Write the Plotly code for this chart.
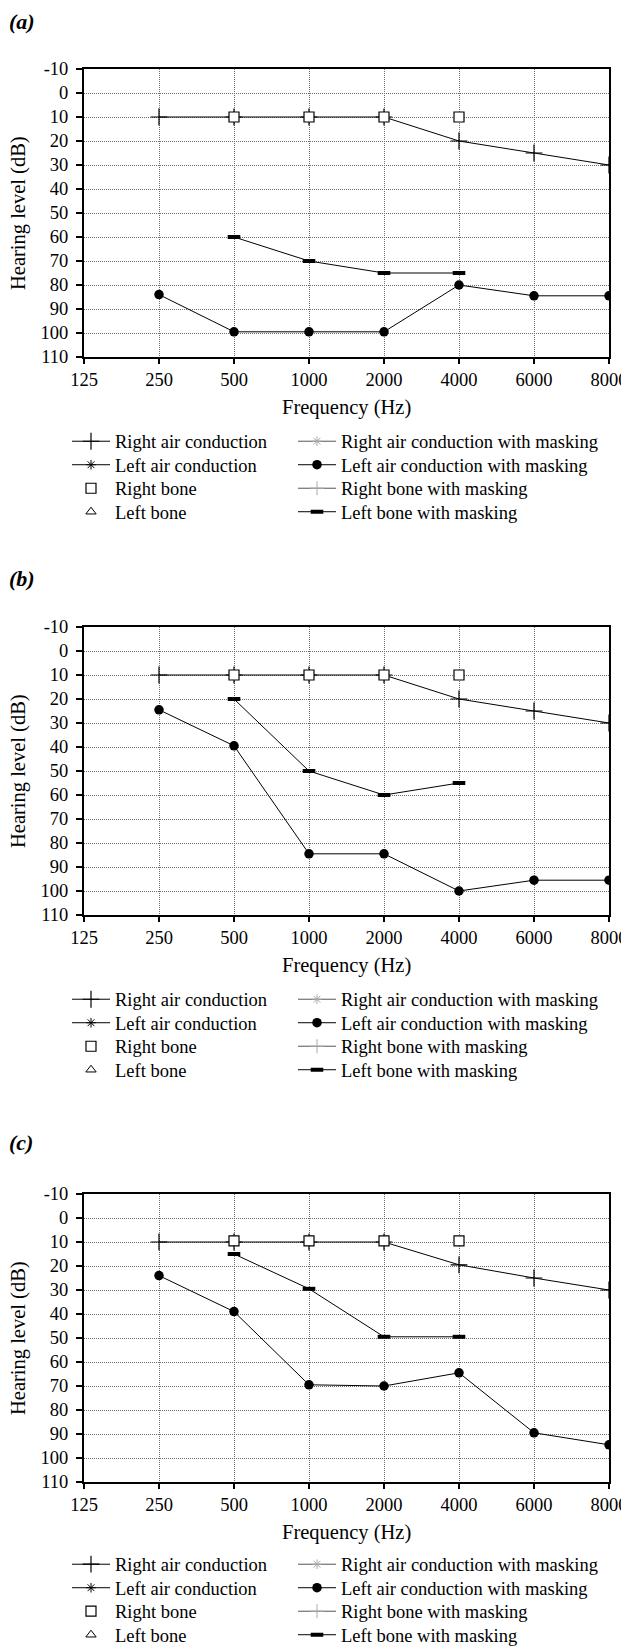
import plotly.graph_objects as go

# ---------------- data ----------------
freqs = ["125", "250", "500", "1000", "2000", "4000", "6000", "8000"]
y_ticks = list(range(-10, 111, 10))
air_freqs = ["250", "500", "1000", "2000", "4000", "6000", "8000"]
bone_freqs = ["500", "1000", "2000", "4000"]

panel_labels = ["(a)", "(b)", "(c)"]

right_air = [
    [10, 10, 10, 10, 20, 25, 30],
    [10, 10, 10, 10, 20, 25, 30],
    [10, 10, 10, 10, 19.5, 25, 30],
]
right_bone = [
    [10, 10, 10, 10],
    [10, 10, 10, 10],
    [9.5, 9.5, 9.5, 9.5],
]
left_air_masked = [
    [84, 99.5, 99.5, 99.5, 80, 84.5, 84.5],
    [24.5, 39.5, 84.5, 84.5, 100, 95.5, 95.5],
    [24, 39, 69.5, 70, 64.5, 89.5, 94.5],
]
left_bone_masked = [
    [60, 70, 75, 75],
    [20, 50, 60, 55],
    [15, 29.5, 49.5, 49.5],
]

# ---------------- layout geometry (page pixels) ----------------
PAGE_W, PAGE_H = 629, 1646
OFF = 8                      # default body margin of the html page
W, H = PAGE_W - OFF, PAGE_H - OFF
PL, PR = 84, 609
tops = [69, 627, 1194]
PH = 288
label_y = [22, 578, 1142]
legend_first_row = [85, 85, 83]   # px below plot bottom
ROW_GAP = 23.5
LEG_FONT = 18.5
FONT = "Liberation Serif"


def fx(px):
    return (px - OFF) / W


def fy(py):
    return 1 - (py - OFF) / H


fig = go.Figure()
legend_slots = {}   # legend id -> (column, row index, panel)

for i in range(3):
    xa = "x" if i == 0 else f"x{i+1}"
    ya = "y" if i == 0 else f"y{i+1}"

    def lg(col, row):
        n = i * 8 + col * 4 + row + 1
        key = "legend" if n == 1 else f"legend{n}"
        legend_slots[key] = (col, row, i)
        return key

    fig.add_trace(go.Scatter(
        x=air_freqs, y=right_air[i], xaxis=xa, yaxis=ya, legend=lg(0, 0),
        name="Right air conduction", mode="lines+markers",
        line=dict(color="black", width=1),
        marker=dict(symbol="cross-thin-open", size=12, color="black",
                    line=dict(color="black", width=1.2)),
    ))
    fig.add_trace(go.Scatter(
        x=[None], y=[None], xaxis=xa, yaxis=ya, legend=lg(0, 1),
        name="Left air conduction", mode="lines+markers",
        line=dict(color="black", width=1),
        marker=dict(symbol="asterisk-open", size=8, color="black",
                    line=dict(color="black", width=1)),
    ))
    fig.add_trace(go.Scatter(
        x=bone_freqs, y=right_bone[i], xaxis=xa, yaxis=ya, legend=lg(0, 2),
        name="Right bone", mode="markers",
        marker=dict(symbol="square", size=10, color="white",
                    line=dict(color="black", width=1.2)),
    ))
    fig.add_trace(go.Scatter(
        x=[None], y=[None], xaxis=xa, yaxis=ya, legend=lg(0, 3),
        name="Left bone", mode="markers",
        marker=dict(symbol="triangle-up-open", size=9, color="black",
                    line=dict(color="black", width=1)),
    ))
    fig.add_trace(go.Scatter(
        x=[None], y=[None], xaxis=xa, yaxis=ya, legend=lg(1, 0),
        name="Right air conduction with masking", mode="lines+markers",
        line=dict(color="#555555", width=1),
        marker=dict(symbol="asterisk-open", size=8, color="#aaaaaa",
                    line=dict(color="#aaaaaa", width=1)),
    ))
    fig.add_trace(go.Scatter(
        x=air_freqs, y=left_air_masked[i], xaxis=xa, yaxis=ya, legend=lg(1, 1),
        name="Left air conduction with masking", mode="lines+markers",
        line=dict(color="black", width=1),
        marker=dict(symbol="circle", size=9.5, color="black"),
    ))
    fig.add_trace(go.Scatter(
        x=[None], y=[None], xaxis=xa, yaxis=ya, legend=lg(1, 2),
        name="Right bone with masking", mode="lines+markers",
        line=dict(color="#555555", width=1),
        marker=dict(symbol="cross-thin-open", size=10, color="#aaaaaa",
                    line=dict(color="#aaaaaa", width=1)),
    ))
    fig.add_trace(go.Scatter(
        x=bone_freqs, y=left_bone_masked[i], xaxis=xa, yaxis=ya, legend=lg(1, 3),
        name="Left bone with masking", mode="lines+markers",
        line=dict(color="black", width=1),
        marker=dict(symbol="line-ew", size=9, color="black",
                    line=dict(color="black", width=4)),
    ))

layout = dict(
    width=W, height=H,
    margin=dict(l=0, r=0, t=0, b=0, autoexpand=False),
    paper_bgcolor="white", plot_bgcolor="white",
    font=dict(family=FONT, size=18, color="black"),
    showlegend=True,
    annotations=[],
)

axis_common = dict(
    showgrid=True, gridcolor="#6e6e6e", gridwidth=1, griddash="1px,1px",
    showline=True, linecolor="black", linewidth=2, mirror=True,
    ticks="outside", tickcolor="black", tickwidth=1.5,
    tickfont=dict(family=FONT, size=18.5, color="black"),
    zeroline=False, fixedrange=True, automargin=False,
)

for i in range(3):
    top = tops[i]
    bot = top + PH
    xk = "xaxis" if i == 0 else f"xaxis{i+1}"
    yk = "yaxis" if i == 0 else f"yaxis{i+1}"
    ya = "y" if i == 0 else f"y{i+1}"
    xa = "x" if i == 0 else f"x{i+1}"
    layout[xk] = dict(
        axis_common, domain=[fx(PL), fx(PR)], anchor=ya, type="category",
        categoryorder="array", categoryarray=freqs, range=[0, 7],
        tickvals=freqs, ticklen=5,
    )
    layout[yk] = dict(
        axis_common, domain=[fy(bot), fy(top)], anchor=xa,
        range=[110, -10], tickvals=y_ticks, ticktext=[str(v) for v in y_ticks],
        ticklen=6, ticklabelstandoff=4,
    )
    layout["annotations"] += [
        dict(text=f"<b><i>{panel_labels[i]}</i></b>", x=fx(7), y=fy(label_y[i]),
             xref="paper", yref="paper", xanchor="left", yanchor="middle",
             showarrow=False, font=dict(family=FONT, size=22, color="black")),
        dict(text="Frequency (Hz)", x=fx((PL + PR) / 2), y=fy(bot + 50),
             xref="paper", yref="paper", xanchor="center", yanchor="middle",
             showarrow=False, font=dict(family=FONT, size=20.5, color="black")),
        dict(text="Hearing level (dB)", x=fx(18), y=fy((top + bot) / 2),
             xref="paper", yref="paper", xanchor="center", yanchor="middle",
             textangle=-90, showarrow=False,
             font=dict(family=FONT, size=20.5, color="black")),
    ]

col_x = [67, 293]
for key, (col, row, i) in legend_slots.items():
    bot = tops[i] + PH
    row_center = bot + legend_first_row[i] + row * ROW_GAP
    layout[key] = dict(
        orientation="v", xanchor="left", yanchor="top", visible=True,
        x=fx(col_x[col]), y=fy(row_center - 19.3),
        bgcolor="rgba(0,0,0,0)", borderwidth=0, itemwidth=38,
        font=dict(family=FONT, size=LEG_FONT, color="black"),
        itemclick=False, itemdoubleclick=False,
    )

fig.update_layout(**layout)
fig.write_html("out.html")
